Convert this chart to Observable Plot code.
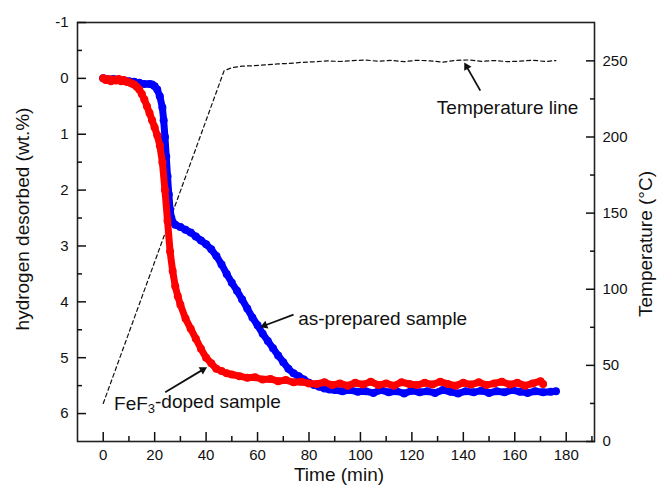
<!DOCTYPE html>
<html>
<head>
<meta charset="utf-8">
<script src="https://cdn.jsdelivr.net/npm/d3@7"></script>
<script src="https://cdn.jsdelivr.net/npm/@observablehq/plot@0.6"></script>
<style>
  html, body { margin: 0; padding: 0; background: #fff; }
</style>
</head>
<body>
<div id="chart"></div>
<script>
// ---- Data ----
const redTime = [0,1,2,3,4,5,6,7,8,9,10,11,12,13,14,15,16,17,18,19,20,21,22,23,24,25,26,27,28,29,30,32,34,36,38,40,42,44,46,48,50,53,56,59,62,65,68,71,74,77,80,
  83,86,89,92,95,98,101,104,107,110,113,116,119,122,125,128,131,134,137,140,143,146,149,152,155,158,161,164,167,170,171];
const redW = [0.00,0.03,0.01,0.05,0.02,0.04,0.01,0.05,0.03,0.06,0.07,0.09,0.11,0.15,0.20,0.28,0.38,0.50,0.62,0.75,0.88,1.02,1.20,1.50,2.00,2.55,3.10,3.45,3.72,3.90,4.05,4.30,4.48,4.66,4.84,5.00,5.10,5.20,5.24,5.28,5.30,5.33,5.36,5.35,5.39,5.38,5.42,5.40,5.44,5.43,5.46,
  5.47,5.44,5.49,5.46,5.50,5.45,5.48,5.43,5.49,5.46,5.50,5.44,5.47,5.49,5.45,5.48,5.43,5.47,5.50,5.45,5.48,5.44,5.49,5.46,5.43,5.48,5.45,5.50,5.46,5.42,5.47];

const blueTime = [0,2,4,6,8,10,12,14,16,18,19,20,21,22,23,23.5,24,24.5,25,25.5,26,26.5,27,28,30,32,34,36,38,40,42,44,46,48,50,52,54,56,58,60,62,64,66,68,70,72,74,76,78,80,82,84,86,88,90,93,96,99,
  102,105,108,111,114,117,120,123,126,129,132,135,138,141,144,147,150,153,156,159,162,165,168,171,174,176];
const blueW = [0.00,0.02,0.01,0.03,0.04,0.05,0.06,0.08,0.10,0.10,0.11,0.14,0.20,0.32,0.52,0.75,1.05,1.40,1.75,2.08,2.35,2.50,2.57,2.62,2.66,2.71,2.76,2.83,2.90,2.97,3.06,3.18,3.33,3.50,3.66,3.80,3.96,4.12,4.28,4.42,4.57,4.70,4.83,4.96,5.08,5.20,5.28,5.33,5.39,5.45,5.49,5.52,5.55,5.57,5.58,5.60,5.58,5.61,
  5.60,5.63,5.58,5.62,5.60,5.64,5.59,5.62,5.60,5.63,5.58,5.61,5.64,5.60,5.62,5.59,5.63,5.60,5.62,5.58,5.61,5.63,5.60,5.62,5.61,5.60];

const tempTime = [0,47,50,54,58,63,68,72,77,82,87,92,97,102,107,112,117,122,127,132,137,142,147,152,157,162,167,172,176];
const tempC = [25,243.5,245.5,246.5,246.8,247.4,248,248.3,249,249.4,250,249.6,250.2,250.5,249.8,250.3,249.5,250.4,250,249.2,250.3,250.6,249.7,250.2,249.5,249.8,250.4,249.6,250.2];

const xMajor = [0,20,40,60,80,100,120,140,160,180];
const xMinor = [10,30,50,70,90,110,130,150,170,190];
const yMajor = [-1,0,1,2,3,4,5,6];
const yMinor = [-0.5,0.5,1.5,2.5,3.5,4.5,5.5];
const tMajor = [0,50,100,150,200,250];
const tMinor = [25,75,125,175,225];

const labels = {
  x: "Time (min)",
  y: "hydrogen desorbed (wt.%)",
  y2: "Temperature (\u00B0C)"
};

// annotations (data units: time, wt.%)
const annText = [
  {t: 129.7, w: 0.52, label: "Temperature line"},
  {t: 75.8, w: 4.30, label: "as-prepared sample"},
  {t: 4.2, w: 5.82, label: "FeF3-doped sample"}
];
const annArrows = [
  {t1: 146.6, w1: 0.22, t2: 140.8, w2: -0.25},
  {t1: 74.0, w1: 4.23, t2: 61.8, w2: 4.44},
  {t1: 24.1, w1: 5.62, t2: 39.6, w2: 5.19}
];

// ---- Layout & secondary axis mapping ----
const W = 659, H = 485, mL = 77, mR = 65, mT = 22, mB = 44;
const xDomain = [-10, 191];
const wTop = -1, wBottom = 6.5, tMax = 275.2;
const toW = T => wBottom - T * (wBottom - wTop) / tMax;
const fromW = w => (wBottom - w) * tMax / (wBottom - wTop);

const red = redTime.map((t, i) => ({t, w: redW[i]}));
const blue = blueTime.map((t, i) => ({t, w: blueW[i]}));
const temp = tempTime.map((t, i) => ({t, w: toW(tempC[i])}));

// arrow shafts + filled heads
const kx = (W - mL - mR) / (xDomain[1] - xDomain[0]);
const ky = (H - mT - mB) / (wBottom - wTop);
const arrowGeom = annArrows.map(a => {
  const dxp = (a.t2 - a.t1) * kx, dyp = (a.w2 - a.w1) * ky;
  const len = Math.hypot(dxp, dyp);
  const ux = dxp / len, uy = dyp / len;
  return {
    t1: a.t1, w1: a.w1,
    ts: a.t2 - 4 * ux / kx, ws: a.w2 - 4 * uy / ky,
    th: a.t2 - 2.6 * ux / kx, wh: a.w2 - 2.6 * uy / ky,
    rot: Math.atan2(dxp, -dyp) * 180 / Math.PI
  };
});

const font = "Liberation Sans, Arial, Helvetica, sans-serif";

const chart = Plot.plot({
  width: W,
  height: H,
  marginLeft: mL,
  marginRight: mR,
  marginTop: mT,
  marginBottom: mB,
  x: {domain: xDomain},
  y: {domain: [wTop, wBottom], reverse: true},
  style: {fontFamily: font, fontSize: "15px", color: "#111", background: "#fff"},
  marks: [
    Plot.frame({stroke: "#222", strokeWidth: 1.6}),
    // bottom axis
    Plot.axisX(xMajor, {anchor: "bottom", tickSize: -9, tickPadding: 17, strokeWidth: 1.5, fontSize: 15, tickFormat: d => String(d)}),
    Plot.axisX(xMinor, {anchor: "bottom", tickSize: -5, tickPadding: 0, strokeWidth: 1.5, tickFormat: () => ""}),
    // left axis
    Plot.axisY(yMajor, {anchor: "left", tickSize: -9, tickPadding: 18, strokeWidth: 1.5, fontSize: 15, tickFormat: d => String(d)}),
    Plot.axisY(yMinor, {anchor: "left", tickSize: -5, tickPadding: 0, strokeWidth: 1.5, tickFormat: () => ""}),
    // right axis (temperature)
    Plot.axisY(tMajor.map(toW), {anchor: "right", tickSize: -9, tickPadding: 17, strokeWidth: 1.5, fontSize: 15, tickFormat: w => String(Math.round(fromW(w)))}),
    Plot.axisY(tMinor.map(toW), {anchor: "right", tickSize: -5, tickPadding: 0, strokeWidth: 1.5, tickFormat: () => ""}),
    // axis titles
    Plot.text([labels.x], {text: d => d, frameAnchor: "bottom", dx: 3, dy: 33, fontSize: 19, textAnchor: "middle", lineAnchor: "middle"}),
    Plot.text([labels.y], {text: d => d, frameAnchor: "left", dx: -55, dy: -13, rotate: -90, fontSize: 19, textAnchor: "middle", lineAnchor: "middle"}),
    Plot.text([labels.y2], {text: d => d, frameAnchor: "right", dx: 51, dy: 12, rotate: -90, fontSize: 19, textAnchor: "middle", lineAnchor: "middle"}),
    // data
    Plot.line(temp, {x: "t", y: "w", stroke: "#111", strokeWidth: 1.2, strokeDasharray: "4,3"}),
    Plot.line(blue, {x: "t", y: "w", stroke: "#0000ff", strokeWidth: 7, strokeLinejoin: "round", strokeLinecap: "round"}),
    Plot.dot(blue, {x: "t", y: "w", r: 4, fill: "#0000ff"}),
    Plot.line(red, {x: "t", y: "w", stroke: "#ff0000", strokeWidth: 7, strokeLinejoin: "round", strokeLinecap: "round"}),
    Plot.dot(red, {x: "t", y: "w", r: 4, fill: "#ff0000"}),
    // annotations
    Plot.link(arrowGeom, {x1: "t1", y1: "w1", x2: "ts", y2: "ws", stroke: "#111", strokeWidth: 1.8}),
    Plot.dot(arrowGeom, {x: "th", y: "wh", symbol: "triangle2", r: 4, fill: "#111", rotate: "rot"}),
    Plot.text(annText, {x: "t", y: "w", text: "label", textAnchor: "start", lineAnchor: "middle", fontSize: 19, fill: "#111"})
  ]
});

document.getElementById("chart").appendChild(chart);

// subscript "3" in FeF3
d3.select(chart).selectAll("text").each(function() {
  if (this.textContent === "FeF3-doped sample") {
    const el = d3.select(this);
    el.text(null);
    el.append("tspan").text("FeF");
    el.append("tspan").attr("font-size", 13).attr("dy", "0.25em").text("3");
    el.append("tspan").attr("dy", "-0.25em").text("-doped sample");
  }
});
</script>
</body>
</html>
